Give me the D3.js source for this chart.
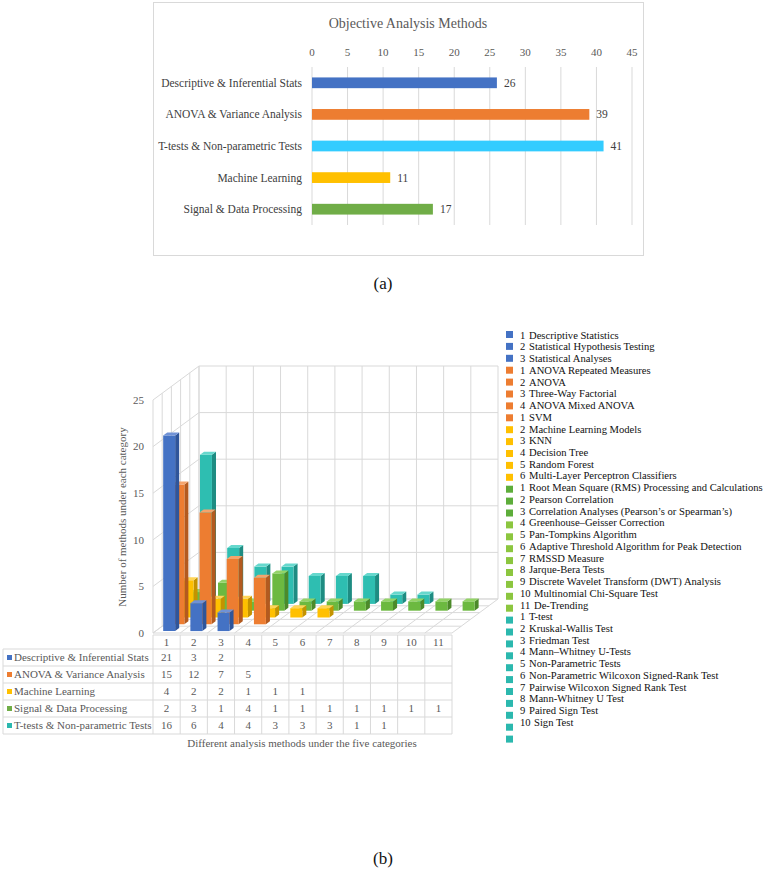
<!DOCTYPE html>
<html>
<head>
<meta charset="utf-8">
<script src="https://cdn.jsdelivr.net/npm/d3@7"></script>
<style>
  body { margin: 0; background: #fff; }
  text { font-family: "Liberation Serif", "Times New Roman", serif; }
</style>
</head>
<body>
<svg id="chart" width="768" height="878"></svg>
<script>
// ---- (a) Objective Analysis Methods
const groupNames = ["Descriptive & Inferential Stats", "ANOVA & Variance Analysis", "T-tests & Non-parametric Tests", "Machine Learning", "Signal & Data Processing"];
const groupTotals = [26, 39, 41, 11, 17];
const groupColors = ["#4472C4", "#ED7D31", "#33CCFF", "#FFC000", "#70AD47"];
const totalTicks = [0, 5, 10, 15, 20, 25, 30, 35, 40, 45];

// ---- (b) methods per category (series front to back)
const methodIndex = [1, 2, 3, 4, 5, 6, 7, 8, 9, 10, 11];
const seriesNames = ["Descriptive & Inferential Stats", "ANOVA & Variance Analysis", "Machine Learning", "Signal & Data Processing", "T-tests & Non-parametric Tests"];
const descValues = [21, 3, 2];
const anovaValues = [15, 12, 7, 5];
const mlValues = [4, 2, 2, 1, 1, 1];
const signalValues = [2, 3, 1, 4, 1, 1, 1, 1, 1, 1, 1];
const ttestValues = [16, 6, 4, 4, 3, 3, 3, 1, 1];
const countTicks = [0, 5, 10, 15, 20, 25];

const descMethods = ["Descriptive Statistics", "Statistical Hypothesis Testing", "Statistical Analyses"];
const anovaMethods = ["ANOVA Repeated Measures", "ANOVA", "Three-Way Factorial", "ANOVA Mixed ANOVA"];
const mlMethods = ["SVM", "Machine Learning Models", "KNN", "Decision Tree", "Random Forest", "Multi-Layer Perceptron Classifiers"];
const signalMethods = ["Root Mean Square (RMS) Processing and Calculations", "Pearson Correlation", "Correlation Analyses (Pearson\u2019s or Spearman\u2019s)", "Greenhouse\u2013Geisser Correction", "Pan-Tompkins Algorithm", "Adaptive Threshold Algorithm for Peak Detection", "RMSSD Measure", "Jarque-Bera Tests", "Discrete Wavelet Transform (DWT) Analysis", "Multinomial Chi-Square Test", "De-Trending"];
const ttestMethods = ["T-test", "Kruskal-Wallis Test", "Friedman Test", "Mann\u2013Whitney U-Tests", "Non-Parametric Tests", "Non-Parametric Wilcoxon Signed-Rank Test", "Pairwise Wilcoxon Signed Rank Test", "Mann-Whitney U Test", "Paired Sign Test", "Sign Test"];
// swatch column as it appears (it runs slightly out of step with the labels)
const swatchCounts = [3, 5, 5, 3, 8, 11];
const swatchColors = ["#4472C4", "#ED7D31", "#FFC000", "#5DAD3A", "#8CC63F", "#2BB8AE"];

const seriesValues = [descValues, anovaValues, mlValues, signalValues, ttestValues];
const seriesColors = [
  {front: "#4472C4", side: "#2F559A", top: "#7092D6"},
  {front: "#ED7D31", side: "#B35A1F", top: "#F5A46C"},
  {front: "#FFC000", side: "#C49300", top: "#FFD557"},
  {front: "#6CB940", side: "#4C8A2A", top: "#93D367"},
  {front: "#2EBEB1", side: "#1E8C82", top: "#66D8CD"}
];
const tableSwatch = ["#4472C4", "#ED7D31", "#FFC000", "#70AD47", "#2BB8AE"];

const svg = d3.select("#chart");
const grid = "#d9d9d9";
const axisText = "#595959";

// ================= (a) =================
svg.append("rect").attr("x", 153.5).attr("y", 2.5).attr("width", 490).attr("height", 253)
  .attr("fill", "#fff").attr("stroke", grid);

svg.append("text").attr("x", 408).attr("y", 28).attr("text-anchor", "middle")
  .attr("font-size", 14).attr("fill", axisText).text("Objective Analysis Methods");

const xA = d3.scaleLinear().domain([0, 45]).range([312, 632]);
const yA = d3.scaleBand().domain(groupNames).range([67, 225]).paddingInner(0.66).paddingOuter(0.33);

const gA = svg.append("g");
gA.selectAll("line.grid").data(totalTicks).join("line")
  .attr("x1", d => xA(d)).attr("x2", d => xA(d)).attr("y1", 67).attr("y2", 225)
  .attr("stroke", grid).attr("stroke-width", 1);
gA.selectAll("text.tick").data(totalTicks).join("text")
  .attr("x", d => xA(d)).attr("y", 56).attr("text-anchor", "middle")
  .attr("font-size", 11).attr("fill", axisText).text(d => d);

gA.selectAll("rect.bar").data(groupNames).join("rect")
  .attr("x", xA(0)).attr("y", d => yA(d))
  .attr("width", (d, i) => xA(groupTotals[i]) - xA(0)).attr("height", yA.bandwidth())
  .attr("fill", (d, i) => groupColors[i]);
gA.selectAll("text.cat").data(groupNames).join("text")
  .attr("x", 302).attr("y", d => yA(d) + yA.bandwidth() / 2).attr("dy", "0.35em")
  .attr("text-anchor", "end").attr("font-size", 11.5).attr("fill", "#404040").text(d => d);
gA.selectAll("text.val").data(groupNames).join("text")
  .attr("x", (d, i) => xA(groupTotals[i]) + 7).attr("y", d => yA(d) + yA.bandwidth() / 2).attr("dy", "0.35em")
  .attr("font-size", 11.5).attr("fill", "#404040").text((d, i) => groupTotals[i]);

svg.append("text").attr("x", 383).attr("y", 289).attr("text-anchor", "middle")
  .attr("font-size", 17).attr("fill", "#111").text("(a)");

// ================= (b) 3D columns =================
const xB = d3.scaleBand().domain(methodIndex).range([153, 452]);
const yB = d3.scaleLinear().domain([0, 25]).range([633, 400]);
const nSlots = seriesNames.length;
const depthX = 46, depthY = -34;
const proj = (x, v, s) => [x + s / nSlots * depthX, yB(v) + s / nSlots * depthY];
const pts = arr => arr.map(p => p.join(",")).join(" ");
const line = (g, a, b) => g.append("line").attr("x1", a[0]).attr("y1", a[1]).attr("x2", b[0]).attr("y2", b[1])
  .attr("stroke", grid).attr("stroke-width", 1);

const gB = svg.append("g");
const xL = xB.range()[0], xR = xB.range()[1];
const boundaries = methodIndex.map(c => xB(c)).concat([xR]);

// back wall
countTicks.forEach(v => line(gB, proj(xL, v, nSlots), proj(xR, v, nSlots)));
boundaries.forEach(b => line(gB, proj(b, 0, nSlots), proj(b, 25, nSlots)));
// left wall
countTicks.forEach(v => line(gB, proj(xL, v, 0), proj(xL, v, nSlots)));
d3.range(nSlots + 1).forEach(s => line(gB, proj(xL, 0, s), proj(xL, 25, s)));
// floor
d3.range(nSlots + 1).forEach(s => line(gB, proj(xL, 0, s), proj(xR, 0, s)));
boundaries.forEach(b => line(gB, proj(b, 0, 0), proj(b, 0, nSlots)));

// bars, back series first
const barW = xB.bandwidth() * 0.44;
for (let i = nSlots - 1; i >= 0; i--) {
  const s0 = i + 0.28, s1 = i + 0.72;
  const col = seriesColors[i];
  const bars = seriesValues[i].map((v, k) => ({cat: methodIndex[k], v}));
  const g = gB.append("g");
  bars.forEach(b => {
    const x0 = xB(b.cat) + (xB.bandwidth() - barW) / 2, x1 = x0 + barW;
    g.append("polygon").attr("fill", col.side)
      .attr("points", pts([proj(x1, 0, s0), proj(x1, 0, s1), proj(x1, b.v, s1), proj(x1, b.v, s0)]));
    g.append("polygon").attr("fill", col.front)
      .attr("points", pts([proj(x0, 0, s0), proj(x1, 0, s0), proj(x1, b.v, s0), proj(x0, b.v, s0)]));
    g.append("polygon").attr("fill", col.top)
      .attr("points", pts([proj(x0, b.v, s0), proj(x1, b.v, s0), proj(x1, b.v, s1), proj(x0, b.v, s1)]));
  });
}

// y axis
gB.selectAll("text.ytick").data(countTicks).join("text")
  .attr("x", 144).attr("y", d => yB(d)).attr("dy", "0.35em").attr("text-anchor", "end")
  .attr("font-size", 11).attr("fill", axisText).text(d => d);
gB.append("text").attr("transform", "translate(126,517) rotate(-90)").attr("text-anchor", "middle")
  .attr("font-size", 11).attr("fill", axisText).text("Number of methods under each category");

// data table
const rowTop = 649, rowH = 17, headTop = 635;
const gT = svg.append("g");
const tableBottom = rowTop + rowH * seriesNames.length;
d3.range(seriesNames.length + 1).forEach(r => line(gT, [3, rowTop + r * rowH], [xR, rowTop + r * rowH]));
line(gT, [xL, headTop], [xR, headTop]);
boundaries.forEach(b => line(gT, [b, headTop], [b, tableBottom]));
line(gT, [3, rowTop], [3, tableBottom]);

gT.selectAll("text.head").data(methodIndex).join("text")
  .attr("x", d => xB(d) + xB.bandwidth() / 2).attr("y", (headTop + rowTop) / 2).attr("dy", "0.35em")
  .attr("text-anchor", "middle").attr("font-size", 11).attr("fill", axisText).text(d => d);

seriesNames.forEach((name, r) => {
  const cy = rowTop + r * rowH + rowH / 2;
  gT.append("rect").attr("x", 7).attr("y", cy - 2.5).attr("width", 5).attr("height", 5).attr("fill", tableSwatch[r]);
  gT.append("text").attr("x", 14).attr("y", cy).attr("dy", "0.35em")
    .attr("font-size", 11).attr("fill", axisText).text(name);
  gT.selectAll(null).data(seriesValues[r]).join("text")
    .attr("x", (d, k) => xB(methodIndex[k]) + xB.bandwidth() / 2).attr("y", cy).attr("dy", "0.35em")
    .attr("text-anchor", "middle").attr("font-size", 11).attr("fill", axisText).text(d => d);
});

svg.append("text").attr("x", 302).attr("y", 747).attr("text-anchor", "middle")
  .attr("font-size", 11).attr("fill", axisText).text("Different analysis methods under the five categories");

// right-hand legend
const legendItems = [descMethods, anovaMethods, mlMethods, signalMethods, ttestMethods]
  .flatMap(list => list.map((label, k) => ({n: k + 1, label})));
const swatchList = swatchCounts.flatMap((c, i) => d3.range(c).map(() => swatchColors[i]));
const gL = svg.append("g");
gL.selectAll("rect").data(swatchList).join("rect")
  .attr("x", 506).attr("y", (d, i) => 331 + i * 11.9).attr("width", 7).attr("height", 7).attr("fill", d => d);
const lt = gL.selectAll("text").data(legendItems).join("text")
  .attr("y", (d, i) => 335 + i * 11.73).attr("dy", "0.35em").attr("font-size", 10.6).attr("fill", "#111");
lt.append("tspan").attr("x", 520).text(d => d.n);
lt.append("tspan").attr("x", d => d.n >= 10 ? 534 : 529).text(d => d.label);

svg.append("text").attr("x", 383).attr("y", 864).attr("text-anchor", "middle")
  .attr("font-size", 17).attr("fill", "#111").text("(b)");
</script>
</body>
</html>
